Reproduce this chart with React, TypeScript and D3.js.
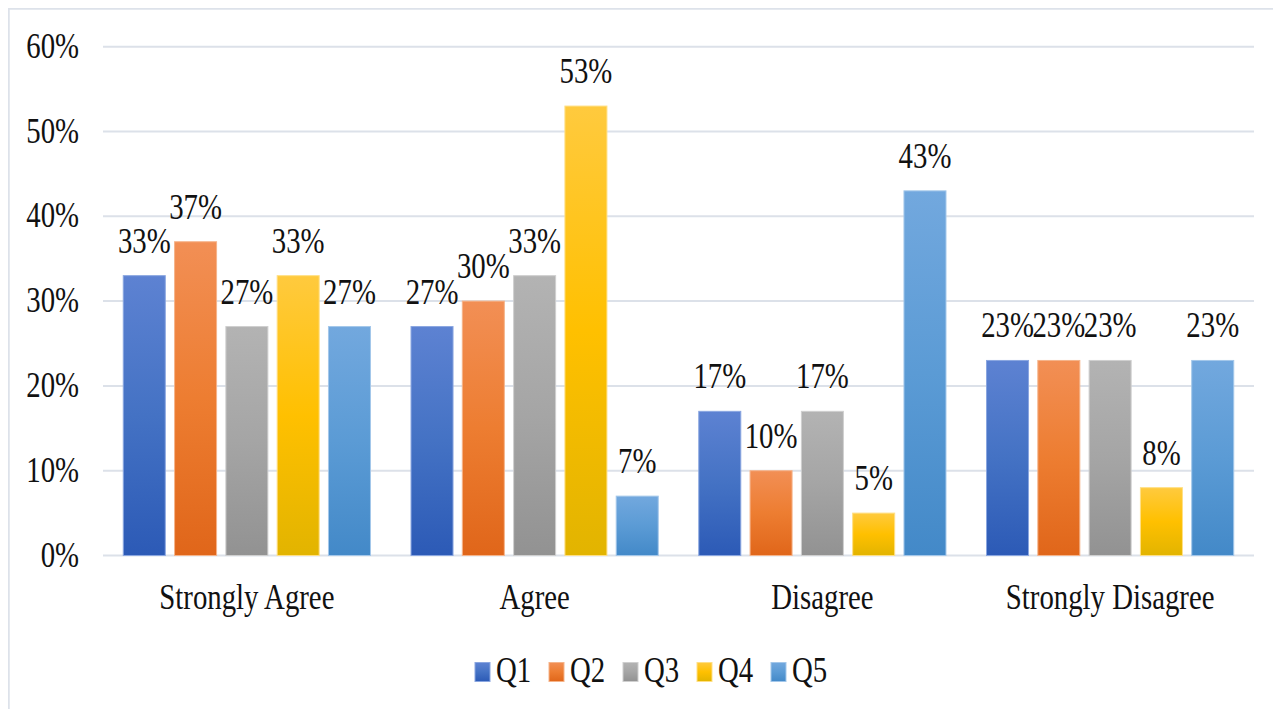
import React from "react";
import * as d3 from "d3";

const categories = ["Strongly Agree", "Agree", "Disagree", "Strongly Disagree"];
const seriesNames = ["Q1", "Q2", "Q3", "Q4", "Q5"];
const q1 = [0.33, 0.27, 0.17, 0.23];
const q2 = [0.37, 0.30, 0.10, 0.23];
const q3 = [0.27, 0.33, 0.17, 0.23];
const q4 = [0.33, 0.53, 0.05, 0.08];
const q5 = [0.27, 0.07, 0.43, 0.23];
const seriesValues = [q1, q2, q3, q4, q5];
const yTicks = [0, 0.1, 0.2, 0.3, 0.4, 0.5, 0.6];

const colorTop = ["#5d82d2", "#f28f55", "#b3b3b3", "#ffca3e", "#72a8de"];
const colorMid = ["#4472c4", "#ed7d31", "#a5a5a5", "#ffc000", "#5b9bd5"];
const colorBot = ["#2c5ab6", "#e0661a", "#929292", "#e2b400", "#4389c8"];
const colorStroke = ["#8aa6e0", "#f5b48a", "#cfcfcf", "#ffdf85", "#a3c7ea"];

const W = 1281;
const H = 717;
const FS = 36;
const SX = 0.8;

function T({ x, y, anchor, children }: { x: number; y: number; anchor: string; children: React.ReactNode }) {
  return (
    <text
      transform={`translate(${x},${y}) scale(${SX},1)`}
      textAnchor={anchor}
      style={{ fontFamily: '"Liberation Serif", "Times New Roman", "DejaVu Serif", serif', fontSize: FS }}
      fill="#111"
    >
      {children}
    </text>
  );
}

export default function App() {
  const x0 = d3.scaleBand<string>().domain(categories).range([103, 1254]).paddingInner(0).paddingOuter(0);
  const x1 = d3
    .scaleBand<string>()
    .domain(seriesNames)
    .range([0, x0.bandwidth()])
    .paddingInner(0.181)
    .paddingOuter(0.395);
  const y = d3.scaleLinear().domain([0, 0.6]).range([555.5, 46.7]);
  const fmt = d3.format(".0%");

  const legendX = [475, 549, 623, 697, 771];

  return (
    <div style={{ margin: -8, width: W, height: H, overflow: "hidden" }}>
      <svg width={W} height={H} style={{ display: "block", background: "#fff" }}>
        <defs>
          {seriesNames.map((s, i) => (
            <linearGradient key={s} id={`g${i}`} x1="0" y1="0" x2="0" y2="1">
              <stop offset="0%" stopColor={colorTop[i]} />
              <stop offset="50%" stopColor={colorMid[i]} />
              <stop offset="100%" stopColor={colorBot[i]} />
            </linearGradient>
          ))}
        </defs>
        <rect x={8.5} y={8.5} width={W + 10} height={H + 10} fill="none" stroke="#dde2ea" strokeWidth={2.5} />
        {yTicks.map((t) => (
          <g key={t}>
            <line x1={103} x2={1254} y1={y(t)} y2={y(t)} stroke="#dce1e9" strokeWidth={2} />
            <T x={79} y={y(t) + 11} anchor="end">
              {fmt(t)}
            </T>
          </g>
        ))}
        {categories.map((c, ci) => (
          <g key={c}>
            {seriesNames.map((s, si) => {
              const v = seriesValues[si][ci];
              const bx = (x0(c) as number) + (x1(s) as number);
              const bw = x1.bandwidth();
              return (
                <g key={s}>
                  <rect
                    x={bx}
                    y={y(v)}
                    width={bw}
                    height={y(0) - y(v)}
                    fill={`url(#g${si})`}
                    stroke={colorStroke[si]}
                    strokeWidth={1}
                  />
                  <T x={bx + bw / 2} y={y(v) - 23} anchor="middle">
                    {fmt(v)}
                  </T>
                </g>
              );
            })}
            <T x={(x0(c) as number) + x0.bandwidth() / 2} y={609} anchor="middle">
              {c}
            </T>
          </g>
        ))}
        {seriesNames.map((s, i) => (
          <g key={s}>
            <rect x={legendX[i]} y={662.5} width={15} height={19} fill={`url(#g${i})`} stroke={colorStroke[i]} strokeWidth={1} />
            <T x={legendX[i] + 21} y={681.5} anchor="start">
              {s}
            </T>
          </g>
        ))}
      </svg>
    </div>
  );
}
